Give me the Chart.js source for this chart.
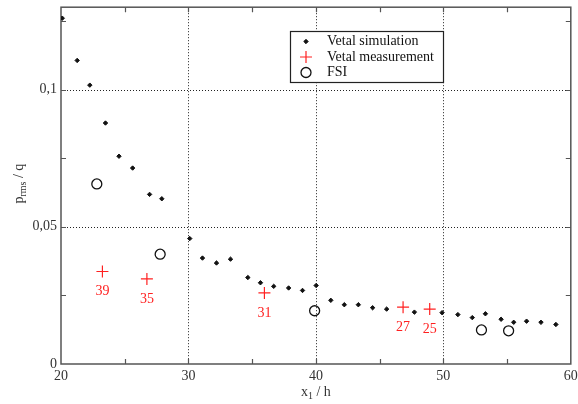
<!DOCTYPE html>
<html lang="en">
<head>
  <meta charset="UTF-8" />
  <title>p_rms / q vs x1 / h</title>
  <script src="https://cdn.jsdelivr.net/npm/chart.js"></script>
  <style>
    html,body{ margin:0; padding:0; background:#fff; }
    #wrap{ width:578px; height:404px; position:relative; }
  </style>
</head>
<body>
  <div id="wrap"><canvas id="chart" width="578" height="404"></canvas></div>

  <script>
    /* ---------- data ---------- */
    const simX = [20.1, 21.27, 22.26, 23.49, 24.55, 25.62, 26.95, 27.91, 30.1, 31.1, 32.2, 33.3,
                  34.66, 35.65, 36.69, 37.86, 38.95, 40.02, 41.17, 42.23, 43.33, 44.45, 45.55,
                  47.73, 49.9, 51.14, 52.27, 53.3, 54.53, 55.52, 56.53, 57.66, 58.83];
    const simY = [0.126, 0.1106, 0.1016, 0.0878, 0.0757, 0.0714, 0.0618, 0.0602, 0.0457, 0.0386,
                  0.0368, 0.0382, 0.0315, 0.0296, 0.0283, 0.0277, 0.0268, 0.0286, 0.0232, 0.0216,
                  0.0216, 0.0205, 0.0200, 0.0189, 0.0187, 0.0180, 0.0169, 0.0183, 0.0163, 0.0152,
                  0.0156, 0.0152, 0.0144];

    const measX = [23.25, 26.74, 35.96, 46.84, 48.93];
    const measY = [0.0337, 0.0310, 0.0259, 0.0207, 0.0200];
    const measLabels = ["39", "35", "31", "27", "25"];

    const fsiX = [22.81, 27.78, 39.9, 52.99, 55.12];
    const fsiY = [0.0656, 0.0400, 0.0194, 0.0124, 0.0121];

    const xTicks = [20, 25, 30, 35, 40, 45, 50, 55, 60];
    const xTickLabels = ["20", "", "30", "", "40", "", "50", "", "60"];
    const xGrid = [30, 40, 50];
    const yTicks = [0, 0.025, 0.05, 0.075, 0.1, 0.125];
    const yTickLabels = ["0", "", "0,05", "", "0,1", ""];
    const yGrid = [0.05, 0.1];

    const SERIF = "'Liberation Serif', 'DejaVu Serif', serif";
    const pts = (xs, ys) => xs.map((x, i) => ({ x, y: ys[i] }));

    /* ---------- frame, inner ticks, dotted grid ---------- */
    const framePlugin = {
      id: "frame",
      beforeDatasetsDraw(chart) {
        const { ctx, chartArea: a, scales: { x, y } } = chart;
        ctx.save();
        // dotted grid
        ctx.strokeStyle = "#222";
        ctx.lineWidth = 1;
        ctx.setLineDash([1, 2]);
        xGrid.forEach(v => {
          const px = Math.round(x.getPixelForValue(v)) + 0.5;
          ctx.beginPath(); ctx.moveTo(px, a.top); ctx.lineTo(px, a.bottom); ctx.stroke();
        });
        yGrid.forEach(v => {
          const py = Math.round(y.getPixelForValue(v)) + 0.5;
          ctx.beginPath(); ctx.moveTo(a.left, py); ctx.lineTo(a.right, py); ctx.stroke();
        });
        ctx.setLineDash([]);
        // inner ticks
        ctx.strokeStyle = "#555";
        ctx.lineWidth = 1.2;
        const L = 5;
        xTicks.slice(1, -1).forEach(v => {
          const px = Math.round(x.getPixelForValue(v)) + 0.5;
          ctx.beginPath();
          ctx.moveTo(px, a.bottom); ctx.lineTo(px, a.bottom - L);
          ctx.moveTo(px, a.top); ctx.lineTo(px, a.top + L);
          ctx.stroke();
        });
        yTicks.slice(1).forEach(v => {
          const py = Math.round(y.getPixelForValue(v)) + 0.5;
          ctx.beginPath();
          ctx.moveTo(a.left, py); ctx.lineTo(a.left + L, py);
          ctx.moveTo(a.right, py); ctx.lineTo(a.right - L, py);
          ctx.stroke();
        });
        // box
        ctx.lineWidth = 1.5;
        ctx.strokeStyle = "#555";
        ctx.strokeRect(a.left, a.top, a.right - a.left, a.bottom - a.top);
        ctx.restore();
      }
    };

    /* ---------- red numbers, legend, axis titles ---------- */
    const annotPlugin = {
      id: "annot",
      afterDatasetsDraw(chart) {
        const { ctx, chartArea: a, scales: { x, y } } = chart;
        ctx.save();

        // numbers under the measurement crosses
        ctx.font = "14px " + SERIF;
        ctx.fillStyle = "#ff2020";
        ctx.textAlign = "center";
        ctx.textBaseline = "middle";
        measX.forEach((v, i) => {
          ctx.fillText(measLabels[i], x.getPixelForValue(v), y.getPixelForValue(measY[i]) + 20);
        });

        // legend box
        const bx = 290, by = 31, bw = 153, bh = 51;
        ctx.fillStyle = "#fff";
        ctx.fillRect(bx, by, bw, bh);
        ctx.strokeStyle = "#222";
        ctx.lineWidth = 1.2;
        ctx.strokeRect(bx + 0.5, by + 0.5, bw, bh);
        const rows = [41.5, 57, 72.5];
        chart.data.datasets.forEach((ds, i) => {
          const cy = rows[i];
          ctx.fillStyle = ds.backgroundColor;
          ctx.strokeStyle = ds.borderColor;
          ctx.lineWidth = ds.borderWidth;
          Chart.helpers.drawPoint(ctx, {
            pointStyle: ds.pointStyle, radius: ds.pointRadius, borderWidth: ds.borderWidth
          }, 306, cy);
          ctx.fillStyle = "#111";
          ctx.font = "14px " + SERIF;
          ctx.textAlign = "left";
          ctx.textBaseline = "middle";
          ctx.fillText(ds.label, 327, cy);
        });

        // x axis title: x_1 / h
        ctx.fillStyle = "#333";
        ctx.textBaseline = "alphabetic";
        ctx.textAlign = "left";
        const xc = (a.left + a.right) / 2, xb = 396;
        ctx.font = "14px " + SERIF;
        const w1 = ctx.measureText("x").width;
        ctx.font = "10px " + SERIF;
        const w2 = ctx.measureText("1").width;
        ctx.font = "14px " + SERIF;
        const w3 = ctx.measureText(" / h").width;
        let sx = xc - (w1 + w2 + w3) / 2;
        ctx.fillText("x", sx, xb);
        ctx.font = "10px " + SERIF;
        ctx.fillText("1", sx + w1, xb + 3);
        ctx.font = "14px " + SERIF;
        ctx.fillText(" / h", sx + w1 + w2, xb);

        // y axis title: p_rms / q
        ctx.translate(23, (a.top + a.bottom) / 2 - 2);
        ctx.rotate(-Math.PI / 2);
        ctx.font = "14px " + SERIF;
        const p1 = ctx.measureText("p").width;
        ctx.font = "10px " + SERIF;
        const p2 = ctx.measureText("rms").width;
        ctx.font = "14px " + SERIF;
        const p3 = ctx.measureText(" / q").width;
        sx = -(p1 + p2 + p3) / 2;
        ctx.fillText("p", sx, 0);
        ctx.font = "10px " + SERIF;
        ctx.fillText("rms", sx + p1, 3);
        ctx.font = "14px " + SERIF;
        ctx.fillText(" / q", sx + p1 + p2, 0);

        ctx.restore();
      }
    };

    new Chart(document.getElementById("chart"), {
      type: "scatter",
      data: {
        datasets: [
          { label: "Vetal simulation", data: pts(simX, simY),
            pointStyle: "rectRot", pointRadius: 2.2, borderWidth: 1,
            backgroundColor: "#111", borderColor: "#111" },
          { label: "Vetal measurement", data: pts(measX, measY),
            pointStyle: "cross", pointRadius: 6, borderWidth: 1.2,
            backgroundColor: "#ff2020", borderColor: "#ff2020" },
          { label: "FSI", data: pts(fsiX, fsiY),
            pointStyle: "circle", pointRadius: 5, borderWidth: 1.3,
            backgroundColor: "rgba(0,0,0,0)", borderColor: "#111" }
        ]
      },
      options: {
        responsive: false,
        animation: false,
        layout: { padding: { top: 5, right: 6, left: 0, bottom: 0 } },
        plugins: { legend: { display: false }, tooltip: { enabled: false } },
        scales: {
          x: {
            type: "linear", min: 20, max: 60,
            afterBuildTicks: s => { s.ticks = xTicks.map(v => ({ value: v })); },
            afterFit: s => { s.height = 40; s.paddingLeft = 0; s.paddingRight = 0; },
            grid: { display: false, drawTicks: false },
            border: { display: false },
            ticks: {
              autoSkip: false, maxRotation: 0, padding: 4,
              color: "#333", font: { family: SERIF, size: 14 },
              callback: (v, i) => xTickLabels[i]
            }
          },
          y: {
            type: "linear", min: 0, max: 0.13,
            afterBuildTicks: s => { s.ticks = yTicks.map(v => ({ value: v })); },
            afterFit: s => { s.width = 61; s.paddingTop = 0; s.paddingBottom = 0; },
            grid: { display: false, drawTicks: false },
            border: { display: false },
            ticks: {
              autoSkip: false, padding: 4,
              color: "#333", font: { family: SERIF, size: 14 },
              callback: (v, i) => yTickLabels[i]
            }
          }
        }
      },
      plugins: [framePlugin, annotPlugin]
    });
  </script>
</body>
</html>
